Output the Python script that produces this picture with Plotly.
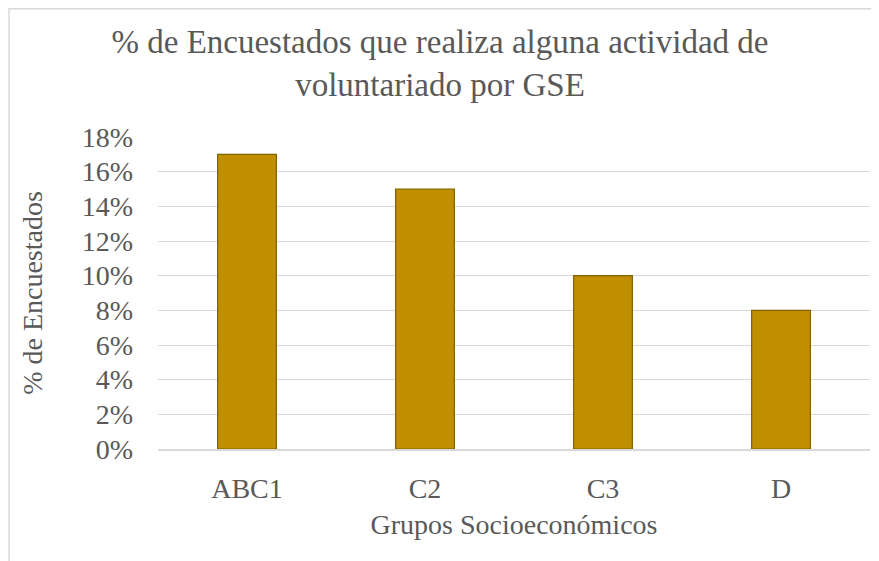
import plotly.graph_objects as go

categories = ["ABC1", "C2", "C3", "D"]
values = [0.17, 0.15, 0.10, 0.08]
tick_vals = [0, 0.02, 0.04, 0.06, 0.08, 0.10, 0.12, 0.14, 0.16, 0.18]
tick_text = ["0%", "2%", "4%", "6%", "8%", "10%", "12%", "14%", "16%", "18%"]

FONT = "Liberation Serif, Times New Roman, serif"
TXT = "#595959"

fig = go.Figure(go.Bar(
    x=categories, y=values, width=0.33,
    marker=dict(color="#BF8F00", line=dict(color="#7F6000", width=1.2)),
))

# page body has an 8px margin: figure pixel = window pixel - 8
OFF = 8
W, H = 879, 561
L = 158 - OFF
T = 137 - OFF
plot_right = 870 - OFF
plot_bottom = 449 - OFF
R = W - plot_right
B = H - plot_bottom
pw, ph = plot_right - L, plot_bottom - T

def px_x(p):
    return (p - OFF - L) / pw

def px_y(p):
    return (plot_bottom - (p - OFF)) / ph

fig.update_layout(
    width=W, height=H,
    margin=dict(l=L, r=R, t=T, b=B, autoexpand=False),
    paper_bgcolor="white", plot_bgcolor="white",
    font=dict(family=FONT, color=TXT),
    showlegend=False,
    title=dict(
        text="% de Encuestados que realiza alguna actividad de<br>voluntariado por GSE",
        x=(440 - OFF) / W, xref="container", xanchor="center",
        y=1 - 45 / H, yref="container", yanchor="top",
        font=dict(family=FONT, size=33, color=TXT),
    ),
    xaxis=dict(
        showgrid=False, showline=True, linecolor="#D9D9D9", linewidth=1.5,
        tickfont=dict(size=28, color=TXT), ticks="", ticklabelstandoff=14,
        title=dict(text="Grupos Socioeconómicos", font=dict(size=28, color=TXT), standoff=11),
    ),
    yaxis=dict(
        range=[0, 0.18], tickvals=tick_vals, ticktext=tick_text,
        showgrid=True, gridcolor="#D9D9D9", gridwidth=1.3,
        zeroline=False, showline=False,
        tickfont=dict(size=28, color=TXT), ticks="", ticklabelstandoff=24,
        title=dict(text="% de Encuestados", font=dict(size=28, color=TXT), standoff=30),
    ),
    shapes=[
        dict(type="line", xref="paper", yref="paper",
             x0=px_x(9), x1=px_x(W + 40), y0=px_y(8.75), y1=px_y(8.75),
             line=dict(color="#D9D9D9", width=1.5)),
        dict(type="line", xref="paper", yref="paper",
             x0=px_x(9), x1=px_x(9), y0=px_y(8), y1=px_y(H + 40),
             line=dict(color="#D9D9D9", width=1.5)),
    ],
)

fig.write_html("out.html")
